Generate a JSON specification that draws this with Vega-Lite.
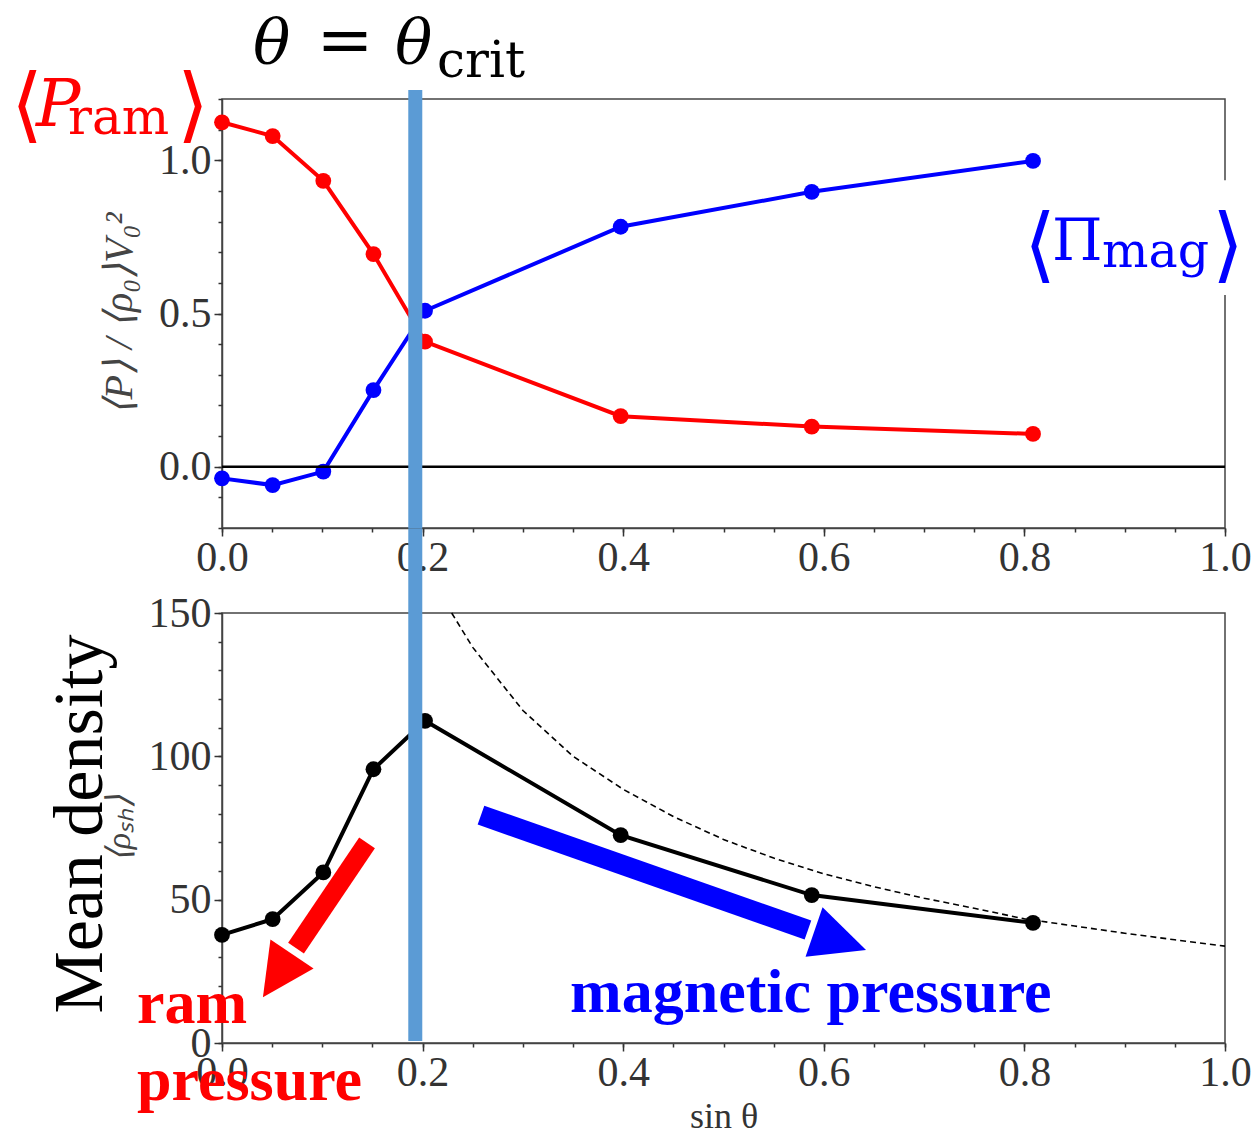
{
  "$schema": "https://vega.github.io/schema/vega-lite/v6.json",
  "padding": {"left": 10, "top": 7, "right": 0, "bottom": 0},
  "background": "white",
  "config": {
    "view": {"stroke": "#444", "strokeWidth": 1.5},
    "axis": {
      "grid": false,
      "labelFont": "Liberation Serif",
      "labelFontSize": 42,
      "labelColor": "#333",
      "titleFont": "Liberation Serif",
      "titleColor": "#444",
      "titleFontWeight": "normal",
      "domainColor": "#444",
      "domainWidth": 1.5,
      "tickColor": "#333",
      "tickWidth": 1.5,
      "labelOverlap": false,
      "labelFlush": false
    }
  },
  "datasets": {
    "pressure": [
      {"s": 0.0, "ram": 1.124, "mag": -0.038},
      {"s": 0.0505, "ram": 1.079, "mag": -0.060},
      {"s": 0.101, "ram": 0.933, "mag": -0.016},
      {"s": 0.151, "ram": 0.694, "mag": 0.250},
      {"s": 0.2024, "ram": 0.408, "mag": 0.509},
      {"s": 0.3975, "ram": 0.165, "mag": 0.783},
      {"s": 0.588, "ram": 0.131, "mag": 0.897},
      {"s": 0.8086, "ram": 0.107, "mag": 0.998}
    ],
    "density": [
      {"s": 0.0, "rho": 37.7},
      {"s": 0.0505, "rho": 43.2},
      {"s": 0.101, "rho": 59.5},
      {"s": 0.151, "rho": 95.5},
      {"s": 0.2024, "rho": 112.4},
      {"s": 0.3975, "rho": 72.5},
      {"s": 0.588, "rho": 51.6},
      {"s": 0.8086, "rho": 41.9}
    ],
    "guide": [
      {"s": 0.229, "rho": 150},
      {"s": 0.25, "rho": 138},
      {"s": 0.3, "rho": 116},
      {"s": 0.35, "rho": 100},
      {"s": 0.4, "rho": 88.5},
      {"s": 0.45, "rho": 79},
      {"s": 0.5, "rho": 71},
      {"s": 0.55, "rho": 64.5},
      {"s": 0.6, "rho": 59},
      {"s": 0.65, "rho": 54.5},
      {"s": 0.7, "rho": 50.5},
      {"s": 0.75, "rho": 47},
      {"s": 0.8, "rho": 43.3},
      {"s": 0.85, "rho": 40.8},
      {"s": 0.9, "rho": 38.3},
      {"s": 0.95, "rho": 36},
      {"s": 1.0, "rho": 33.8}
    ],
    "one": [{"k": 1}]
  },
  "spacing": 85,
  "bounds": "flush",
  "vconcat": [
    {
      "width": 1003,
      "height": 429,
      "resolve": {"axis": {"x": "independent", "y": "independent"}},
      "layer": [
        {
          "data": {"name": "pressure"},
          "mark": {"type": "line", "color": "#ff0000", "strokeWidth": 4, "point": {"filled": true, "size": 250, "color": "#ff0000", "opacity": 1}},
          "encoding": {
            "x": {"field": "s", "type": "quantitative", "scale": {"domain": [0, 1], "nice": false, "zero": false},
              "axis": {"orient": "bottom", "values": [0, 0.2, 0.4, 0.6, 0.8, 1.0], "format": ".1f", "tickSize": 8,
                "labelOverlap": false, "labelFlush": false, "labelPadding": 1, "title": null}},
            "y": {"field": "ram", "type": "quantitative", "scale": {"domain": [-0.2, 1.2], "nice": false, "zero": false},
              "axis": {"orient": "left", "values": [0, 0.5, 1.0], "format": ".1f", "tickSize": 8,
                "labelOverlap": false, "labelPadding": 3,
                "title": "⟨P⟩ / ⟨ρ₀⟩V₀²", "titleFontSize": 40, "titleFontStyle": "italic", "titlePadding": 19}}
          }
        },
        {
          "data": {"name": "pressure"},
          "mark": {"type": "line", "color": "#0000ff", "strokeWidth": 4, "point": {"filled": true, "size": 250, "color": "#0000ff", "opacity": 1}},
          "encoding": {
            "x": {"field": "s", "type": "quantitative",
              "axis": {"orient": "bottom", "values": [0,0.05,0.1,0.15,0.2,0.25,0.3,0.35,0.4,0.45,0.5,0.55,0.6,0.65,0.7,0.75,0.8,0.85,0.9,0.95,1],
                "labels": false, "domain": false, "tickSize": 4, "title": null}},
            "y": {"field": "mag", "type": "quantitative",
              "axis": {"orient": "left", "values": [-0.2,-0.1,0,0.1,0.2,0.3,0.4,0.5,0.6,0.7,0.8,0.9,1.0,1.1,1.2],
                "labels": false, "domain": false, "tickSize": 4, "title": null}}
          }
        },
        {
          "data": {"name": "one"},
          "mark": {"type": "rule", "color": "#000000", "strokeWidth": 2.5},
          "encoding": {"y": {"datum": 0, "axis": null}}
        },
        {
          "data": {"name": "one"},
          "mark": {"type": "rect", "color": "white"},
          "encoding": {"x": {"datum": 0.798, "axis": null}, "x2": {"datum": 1.015}, "y": {"datum": 0.935, "axis": null}, "y2": {"datum": 0.56}}
        },
        {
          "data": {"name": "one"},
          "mark": {"type": "text", "text": "θ", "font": "DejaVu Serif", "fontStyle": "italic", "fontSize": 62, "align": "left", "baseline": "alphabetic", "color": "#000000"},
          "encoding": {"x": {"datum": 0.031, "axis": null}, "y": {"datum": 1.3175, "axis": null}}
        },
        {
          "data": {"name": "one"},
          "mark": {"type": "text", "text": "=", "font": "DejaVu Serif", "fontSize": 68, "align": "center", "baseline": "alphabetic", "color": "#000000"},
          "encoding": {"x": {"datum": 0.1226, "axis": null}, "y": {"datum": 1.3189, "axis": null}}
        },
        {
          "data": {"name": "one"},
          "mark": {"type": "text", "text": "θ", "font": "DejaVu Serif", "fontStyle": "italic", "fontSize": 62, "align": "left", "baseline": "alphabetic", "color": "#000000"},
          "encoding": {"x": {"datum": 0.1725, "axis": null}, "y": {"datum": 1.3175, "axis": null}}
        },
        {
          "data": {"name": "one"},
          "mark": {"type": "text", "text": "crit", "font": "DejaVu Serif", "fontSize": 50, "align": "left", "baseline": "alphabetic", "color": "#000000"},
          "encoding": {"x": {"datum": 0.2144, "axis": null}, "y": {"datum": 1.2719, "axis": null}}
        },
        {
          "data": {"name": "one"},
          "mark": {"type": "text", "text": "⟨", "font": "DejaVu Serif", "fontSize": 82, "align": "left", "baseline": "alphabetic", "color": "#ff0000"},
          "encoding": {"x": {"datum": -0.2104, "axis": null}, "y": {"datum": 1.0923, "axis": null}}
        },
        {
          "data": {"name": "one"},
          "mark": {"type": "text", "text": "P", "font": "DejaVu Serif", "fontStyle": "italic", "fontSize": 66, "align": "left", "baseline": "alphabetic", "color": "#ff0000"},
          "encoding": {"x": {"datum": -0.1854, "axis": null}, "y": {"datum": 1.1120, "axis": null}}
        },
        {
          "data": {"name": "one"},
          "mark": {"type": "text", "text": "ram", "font": "DejaVu Serif", "fontSize": 50, "align": "left", "baseline": "alphabetic", "color": "#ff0000"},
          "encoding": {"x": {"datum": -0.1535, "axis": null}, "y": {"datum": 1.0858, "axis": null}}
        },
        {
          "data": {"name": "one"},
          "mark": {"type": "text", "text": "⟩", "font": "DejaVu Serif", "fontSize": 82, "align": "left", "baseline": "alphabetic", "color": "#ff0000"},
          "encoding": {"x": {"datum": -0.0449, "axis": null}, "y": {"datum": 1.0923, "axis": null}}
        },
        {
          "data": {"name": "one"},
          "mark": {"type": "text", "text": "⟨", "font": "DejaVu Serif", "fontSize": 82, "align": "left", "baseline": "alphabetic", "color": "#0000ff"},
          "encoding": {"x": {"datum": 0.7996, "axis": null}, "y": {"datum": 0.6354, "axis": null}}
        },
        {
          "data": {"name": "one"},
          "mark": {"type": "text", "text": "Π", "font": "DejaVu Serif", "fontSize": 58, "align": "left", "baseline": "alphabetic", "color": "#0000ff"},
          "encoding": {"x": {"datum": 0.8275, "axis": null}, "y": {"datum": 0.6746, "axis": null}}
        },
        {
          "data": {"name": "one"},
          "mark": {"type": "text", "text": "mag", "font": "DejaVu Serif", "fontSize": 49, "align": "left", "baseline": "alphabetic", "color": "#0000ff"},
          "encoding": {"x": {"datum": 0.8774, "axis": null}, "y": {"datum": 0.6518, "axis": null}}
        },
        {
          "data": {"name": "one"},
          "mark": {"type": "text", "text": "⟩", "font": "DejaVu Serif", "fontSize": 82, "align": "left", "baseline": "alphabetic", "color": "#0000ff"},
          "encoding": {"x": {"datum": 0.987, "axis": null}, "y": {"datum": 0.6354, "axis": null}}
        },
        {
          "data": {"name": "one"},
          "mark": {"type": "rule", "color": "#5b9bd5", "strokeWidth": 14, "strokeCap": "butt"},
          "encoding": {"x": {"datum": 0.1927, "axis": null}, "y": {"datum": 1.2294, "axis": null}, "y2": {"datum": -0.2}}
        }
      ]
    },
    {
      "width": 1003,
      "height": 430,
      "resolve": {"axis": {"x": "independent", "y": "independent"}},
      "layer": [
        {
          "data": {"name": "guide"},
          "mark": {"type": "line", "color": "#000000", "strokeWidth": 1.6, "strokeDash": [6, 4]},
          "encoding": {
            "x": {"field": "s", "type": "quantitative", "scale": {"domain": [0, 1], "nice": false, "zero": false},
              "axis": {"orient": "bottom", "values": [0,0.05,0.1,0.15,0.2,0.25,0.3,0.35,0.4,0.45,0.5,0.55,0.6,0.65,0.7,0.75,0.8,0.85,0.9,0.95,1],
                "labels": false, "domain": false, "tickSize": 4, "title": null}},
            "y": {"field": "rho", "type": "quantitative", "scale": {"domain": [0, 150], "nice": false, "zero": false},
              "axis": {"orient": "left", "values": [0,10,20,30,40,50,60,70,80,90,100,110,120,130,140,150],
                "labels": false, "domain": false, "tickSize": 4, "title": null}}
          }
        },
        {
          "data": {"name": "density"},
          "mark": {"type": "line", "color": "#000000", "strokeWidth": 4, "point": {"filled": true, "size": 250, "color": "#000000", "opacity": 1}},
          "encoding": {
            "x": {"field": "s", "type": "quantitative",
              "axis": {"orient": "bottom", "values": [0, 0.2, 0.4, 0.6, 0.8, 1.0], "format": ".1f", "tickSize": 8,
                "labelOverlap": false, "labelFlush": false, "labelPadding": 1,
                "title": "sin θ", "titleFontSize": 36, "titleColor": "#333", "titlePadding": 6}},
            "y": {"field": "rho", "type": "quantitative",
              "axis": {"orient": "left", "values": [0, 50, 100, 150], "format": "d", "tickSize": 8,
                "labelOverlap": false, "labelPadding": 3,
                "title": "⟨ρₛₕ⟩", "titleFontSize": 34, "titleFontStyle": "italic", "titlePadding": 12}}
          }
        },
        {
          "data": {"name": "one"},
          "mark": {"type": "rule", "color": "#ff0000", "strokeWidth": 19, "strokeCap": "butt"},
          "encoding": {"x": {"datum": 0.1446, "axis": null}, "y": {"datum": 69.8, "axis": null}, "x2": {"datum": 0.0738}, "y2": {"datum": 33.1}}
        },
        {
          "data": {"name": "one"},
          "mark": {"type": "point", "shape": "M1,0L-1,-1L-1,1Z", "filled": true, "color": "#ff0000", "opacity": 1, "size": 2704, "angle": 124, "strokeWidth": 0},
          "encoding": {"x": {"datum": 0.0553, "axis": null}, "y": {"datum": 23.5, "axis": null}}
        },
        {
          "data": {"name": "one"},
          "mark": {"type": "rule", "color": "#0000ff", "strokeWidth": 20, "strokeCap": "butt"},
          "encoding": {"x": {"datum": 0.2582, "axis": null}, "y": {"datum": 79.5, "axis": null}, "x2": {"datum": 0.5842}, "y2": {"datum": 39.4}}
        },
        {
          "data": {"name": "one"},
          "mark": {"type": "point", "shape": "M1,0L-1,-0.95L-1,0.95Z", "filled": true, "color": "#0000ff", "opacity": 1, "size": 3025, "angle": 19, "strokeWidth": 0},
          "encoding": {"x": {"datum": 0.6162, "axis": null}, "y": {"datum": 35.6, "axis": null}}
        },
        {
          "data": {"name": "one"},
          "mark": {"type": "text", "text": "Mean density", "font": "Liberation Serif", "fontSize": 70, "angle": -90, "align": "center", "baseline": "alphabetic", "color": "#000000"},
          "encoding": {"x": {"datum": -0.1196, "axis": null}, "y": {"datum": 76.4, "axis": null}}
        },
        {
          "data": {"name": "one"},
          "mark": {"type": "text", "text": "ram", "font": "Liberation Serif", "fontWeight": "bold", "fontSize": 62, "align": "left", "baseline": "alphabetic", "color": "#ff0000"},
          "encoding": {"x": {"datum": -0.0847, "axis": null}, "y": {"datum": 6.98, "axis": null}}
        },
        {
          "data": {"name": "one"},
          "mark": {"type": "text", "text": "pressure", "font": "Liberation Serif", "fontWeight": "bold", "fontSize": 62, "align": "left", "baseline": "alphabetic", "color": "#ff0000"},
          "encoding": {"x": {"datum": -0.0847, "axis": null}, "y": {"datum": -19.9, "axis": null}}
        },
        {
          "data": {"name": "one"},
          "mark": {"type": "text", "text": "magnetic pressure", "font": "Liberation Serif", "fontWeight": "bold", "fontSize": 62, "align": "left", "baseline": "alphabetic", "color": "#0000ff"},
          "encoding": {"x": {"datum": 0.347, "axis": null}, "y": {"datum": 10.8, "axis": null}}
        },
        {
          "data": {"name": "one"},
          "mark": {"type": "rule", "color": "#5b9bd5", "strokeWidth": 14, "strokeCap": "butt"},
          "encoding": {"x": {"datum": 0.1927, "axis": null}, "y": {"datum": 179.6, "axis": null}, "y2": {"datum": 0.7}}
        }
      ]
    }
  ]
}
